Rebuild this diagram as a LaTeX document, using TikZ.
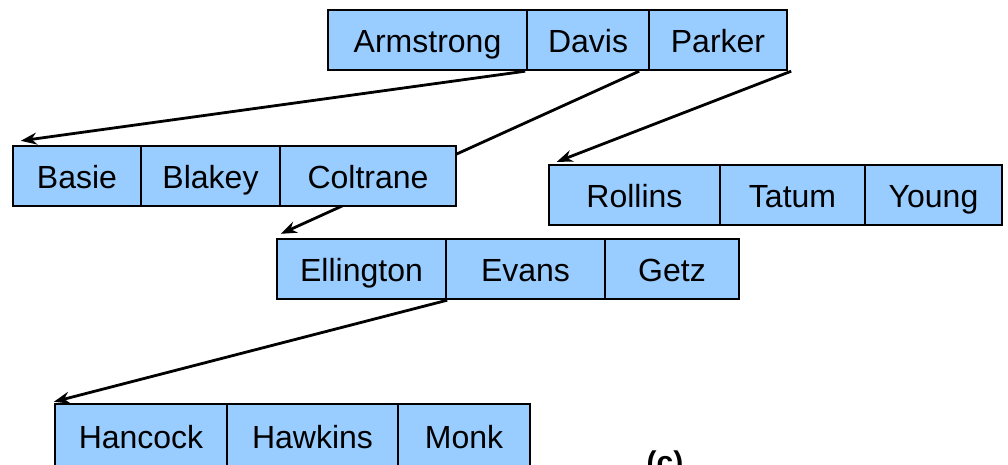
\documentclass[tikz,border=0pt]{standalone}
\usepackage{fontspec}
\setmainfont{Liberation Sans}
\usetikzlibrary{calc,arrows.meta,backgrounds}
\definecolor{cellblue}{HTML}{99CCFF}
\begin{document}
\begin{tikzpicture}[x=1pt,y=-1pt,
  cell/.style={draw=black,fill=cellblue,line width=2.4pt,minimum height=60pt,inner sep=0pt,
    text height=27.5pt,text depth=2.5pt,
    font=\fontsize{32}{38}\selectfont,text=black},
  arr/.style={draw=black,line width=2.8pt,-{Stealth[length=16pt,width=12pt]}}]
\useasboundingbox (0,0) rectangle (1008,464);
\clip (0,0) rectangle (1008,464);
% top row
\node[cell,minimum width=199pt] (armstrong) at (427.5,40) {Armstrong};
\node[cell,minimum width=122pt] (davis) at (588,40) {Davis};
\node[cell,minimum width=138pt] (parker) at (718,40) {Parker};
% left row 2
\node[cell,minimum width=128pt] (basie) at (77,176) {Basie};
\node[cell,minimum width=139pt] (blakey) at (210.5,176) {Blakey};
\node[cell,minimum width=176pt] (coltrane) at (368,176) {Coltrane};
% right row 2
\node[cell,minimum width=171pt] (rollins) at (634.5,195) {Rollins};
\node[cell,minimum width=145pt] (tatum) at (792.5,195) {Tatum};
\node[cell,minimum width=137pt] (young) at (933.5,195) {Young};
% row 3
\node[cell,minimum width=169pt] (ellington) at (361.5,269) {Ellington};
\node[cell,minimum width=159pt] (evans) at (525.5,269) {Evans};
\node[cell,minimum width=134pt] (getz) at (672,269) {Getz};
% row 4
\node[cell,minimum width=172pt,minimum height=64pt] (hancock) at (141,436) {Hancock};
\node[cell,minimum width=171pt,minimum height=64pt] (hawkins) at (312.5,436) {Hawkins};
\node[cell,minimum width=132pt,minimum height=64pt] (monk) at (464,436) {Monk};
\node[font=\fontsize{30}{36}\selectfont\bfseries,anchor=base] (lbl) at (665,472) {(c)};
\begin{scope}[on background layer]
\draw[arr] ($(armstrong.south east)+(-3,0)$) -- ($(basie.north west)+(9,-4)$);
\draw[arr] ($(davis.south east)+(-11,0)$) -- ($(ellington.north west)+(5,-4)$);
\draw[arr] ($(parker.south east)+(3,0)$) -- ($(rollins.north west)+(9,-2)$);
\draw[arr] (ellington.south east) -- ($(hancock.north west)+(0,-1)$);
\end{scope}
\end{tikzpicture}
\end{document}
